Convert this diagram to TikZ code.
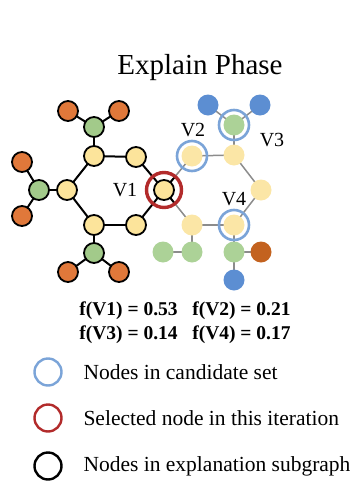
\documentclass[tikz,border=0pt]{standalone}
\usepackage{fontspec}
\setmainfont{Liberation Serif}
\usetikzlibrary{calc}
\definecolor{ylw}{HTML}{FCE49B}
\definecolor{grn}{HTML}{A2CA8A}
\definecolor{org}{HTML}{E0783A}
\definecolor{lylw}{HTML}{FBE6A6}
\definecolor{lgrn}{HTML}{ACD297}
\definecolor{lblu}{HTML}{5C8ED2}
\definecolor{dorg}{HTML}{C3621F}
\definecolor{ringblue}{HTML}{7BA4D8}
\definecolor{ringred}{HTML}{B22B2B}
\definecolor{edgegray}{HTML}{8C8C8C}
\tikzset{
  bnode/.style={circle,draw=black,line width=1.8pt,minimum size=20pt,inner sep=0pt},
  fnode/.style={circle,minimum size=21pt,inner sep=0pt},
  bedge/.style={draw=black,line width=2pt},
  gedge/.style={draw=edgegray,line width=1.5pt},
  cring/.style={circle,draw=ringblue,line width=2.6pt,minimum size=30pt,inner sep=0pt},
  sring/.style={circle,draw=ringred,line width=3.4pt,minimum size=35pt,inner sep=0pt},
  lab/.style={font=\fontsize{20}{22}\selectfont},
  legc/.style={circle,line width=2.4pt,minimum size=27pt,inner sep=0pt},
  legt/.style={anchor=west,font=\fontsize{21.5}{24}\selectfont}
}
\begin{document}
\begin{tikzpicture}[x=1pt,y=-1pt]
\useasboundingbox (0,0) rectangle (364,485);
% title
\node (title) at (200,68) {\fontsize{29}{32}\selectfont Explain Phase};
% left graph coordinates
\coordinate (o1) at (68,111);
\coordinate (o2) at (119,111);
\coordinate (g1) at (94,127);
\coordinate (y1) at (94,156);
\coordinate (y2) at (136,157);
\coordinate (v1) at (164,190);
\coordinate (y3) at (67,190);
\coordinate (g2) at (39,190);
\coordinate (o3) at (22,162);
\coordinate (o4) at (22,216);
\coordinate (y4) at (94,225);
\coordinate (y5) at (136,225);
\coordinate (g3) at (94,253);
\coordinate (o5) at (68,272);
\coordinate (o6) at (119,272);
% right graph coordinates
\coordinate (b1) at (208,105);
\coordinate (b2) at (260,105);
\coordinate (v3) at (234,125);
\coordinate (v2) at (192,156);
\coordinate (r1) at (234,155);
\coordinate (r2) at (261,190);
\coordinate (v4) at (234,225);
\coordinate (r3) at (192,225);
\coordinate (rg1) at (163,252);
\coordinate (rg2) at (192,252);
\coordinate (rg3) at (234,252);
\coordinate (ro) at (261,252);
\coordinate (rb) at (234,280);
% right gray edges
\draw[gedge] (b1) -- (v3);
\draw[gedge] (b2) -- (v3);
\draw[gedge] (v3) -- (r1);
\draw[gedge] (v2) -- (r1);
\draw[gedge] (r1) -- (r2);
\draw[gedge] (r2) -- (v4);
\draw[gedge] (v4) -- (r3);
\draw[gedge] (r3) -- (v1);
\draw[gedge] (v2) -- (v1);
\draw[gedge] (r3) -- (rg2);
\draw[gedge] (rg1) -- (rg2);
\draw[gedge] (v4) -- (rg3);
\draw[gedge] (rg3) -- (ro);
\draw[gedge] (rg3) -- (rb);
% black stubs inside selected ring
\draw[bedge] (v1) -- ($(v1)!16pt!(v2)$);
\draw[bedge] (v1) -- ($(v1)!16pt!(r3)$);
% left black edges
\draw[bedge] (o1) -- (g1);
\draw[bedge] (o2) -- (g1);
\draw[bedge] (g1) -- (y1);
\draw[bedge] (y1) -- (y2);
\draw[bedge] (y1) -- (y3);
\draw[bedge] (y3) -- (g2);
\draw[bedge] (g2) -- (o3);
\draw[bedge] (g2) -- (o4);
\draw[bedge] (y3) -- (y4);
\draw[bedge] (y4) -- (y5);
\draw[bedge] (y4) -- (g3);
\draw[bedge] (g3) -- (o5);
\draw[bedge] (g3) -- (o6);
\draw[bedge] (y2) -- (v1);
\draw[bedge] (y5) -- (v1);
% left nodes
\foreach \p in {o1,o2,o3,o4,o5,o6} \node[bnode,fill=org] (n\p) at (\p) {};
\foreach \p in {g1,g2,g3} \node[bnode,fill=grn] (n\p) at (\p) {};
\foreach \p in {y1,y2,y3,y4,y5,v1} \node[bnode,fill=ylw] (n\p) at (\p) {};
% right nodes
\foreach \p in {b1,b2,rb} \node[fnode,fill=lblu] (n\p) at (\p) {};
\foreach \p in {v3,rg1,rg2,rg3} \node[fnode,fill=lgrn] (n\p) at (\p) {};
\foreach \p in {v2,r1,r2,v4,r3} \node[fnode,fill=lylw] (n\p) at (\p) {};
\node[fnode,fill=dorg] (nro) at (ro) {};
% rings
\node[cring] (ringv2) at (v2) {};
\node[cring] (ringv3) at (v3) {};
\node[cring] (ringv4) at (v4) {};
\node[sring] (ringv1) at (v1) {};
% labels
\node[lab] (lv1) at (125,190) {V1};
\node[lab] (lv2) at (193,130) {V2};
\node[lab] (lv3) at (272,140) {V3};
\node[lab] (lv4) at (234,199) {V4};
% scores
\node[font=\bfseries\fontsize{19.5}{22}\selectfont] (s1) at (185,311) {f(V1) = 0.53\hspace{0.75em}f(V2) = 0.21};
\node[font=\bfseries\fontsize{19.5}{22}\selectfont] (s2) at (185,335) {f(V3) = 0.14\hspace{0.75em}f(V4) = 0.17};
% legend
\node[legc,draw=ringblue] (lc1) at (48,372) {};
\node[legc,draw=ringred] (lc2) at (48,418) {};
\node[legc,draw=black] (lc3) at (48,466) {};
\node[legt] (lt1) at (80,372) {Nodes in candidate set};
\node[legt] (lt2) at (80,418) {Selected node in this iteration};
\node[legt] (lt3) at (80,466) {Nodes in explanation subgraph};
\end{tikzpicture}
\end{document}
